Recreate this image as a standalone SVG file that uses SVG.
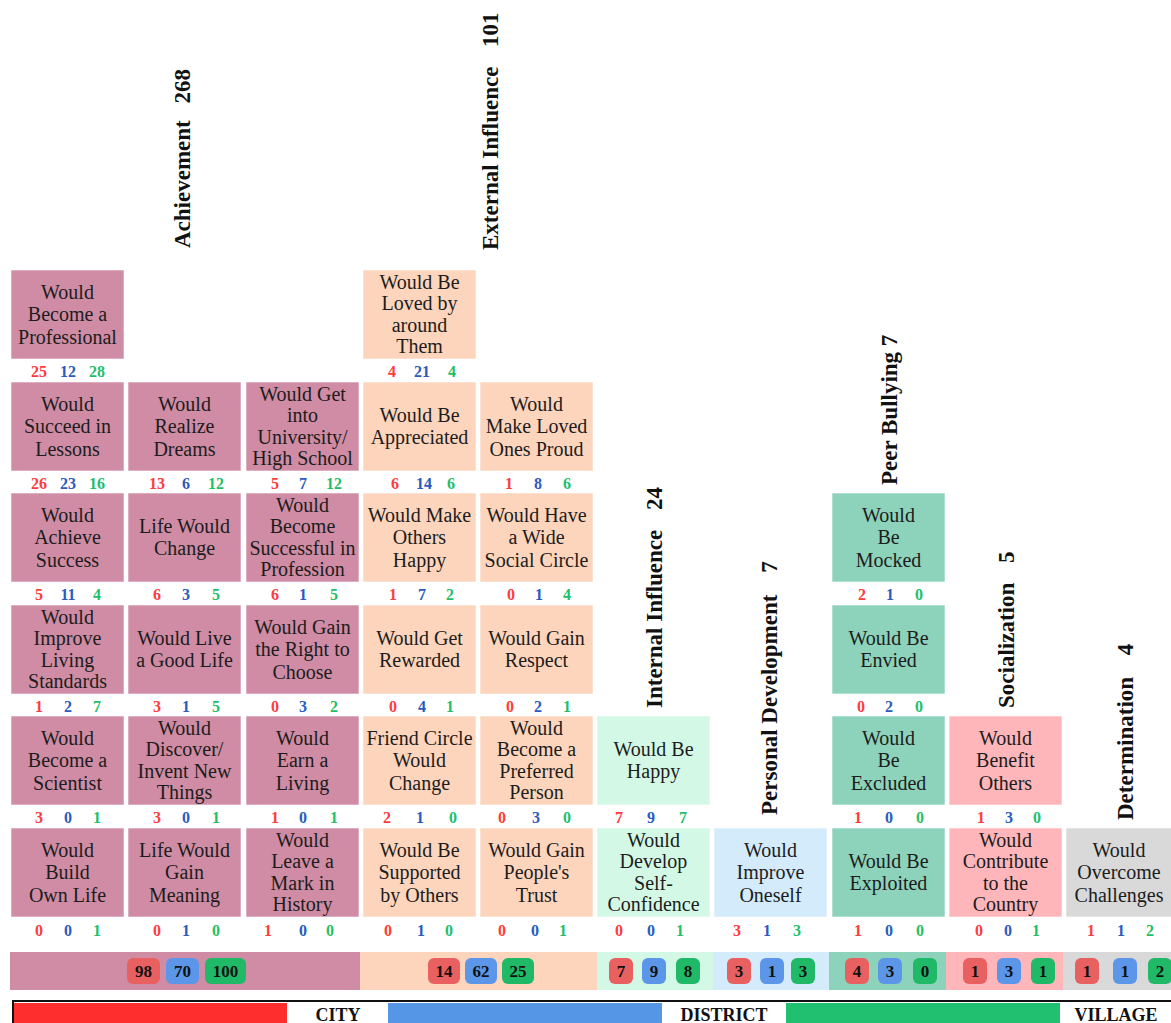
<svg xmlns="http://www.w3.org/2000/svg" width="1171" height="1023" viewBox="0 0 1171 1023">
<style>
.ach{fill:#cf8ca4}
.ext{fill:#fdd5bc}
.int{fill:#d3f9e6}
.per{fill:#d3ebfb}
.peer{fill:#8dd3bb}
.soc{fill:#ffb6ba}
.det{fill:#d9d9d9}
rect.bx{stroke:#ffffff;stroke-opacity:0.6;stroke-width:1}
.t{font-family:"Liberation Serif",serif;font-size:20px;fill:#1c1c1c;text-anchor:middle}
.nr,.nb,.ng{font-family:"Liberation Serif",serif;font-size:16px;font-weight:bold;text-anchor:middle}
.nr{fill:#ff3b3b}
.nb{fill:#2a5bc0}
.ng{fill:#1fbf6a}
.hdr{font-family:"Liberation Serif",serif;font-size:23px;font-weight:bold;fill:#111}
.cr{fill:#e86060}
.cb{fill:#5b96e8}
.cg{fill:#20b968}
.ct{font-family:"Liberation Serif",serif;font-size:17px;font-weight:bold;fill:#111;text-anchor:middle}
.lg{font-family:"Liberation Serif",serif;font-size:18px;font-weight:bold;fill:#111;text-anchor:middle}
</style>

<g id="headers">
<text class="hdr" transform="translate(190,248) rotate(-90)">Achievement <tspan dx="11">268</tspan></text>
<text class="hdr" transform="translate(498,250) rotate(-90)">External Influence <tspan dx="14">101</tspan></text>
<text class="hdr" transform="translate(662,708) rotate(-90)">Internal Influence <tspan dx="14">24</tspan></text>
<text class="hdr" transform="translate(777,815) rotate(-90)">Personal Development <tspan dx="16">7</tspan></text>
<text class="hdr" transform="translate(897,485) rotate(-90)">Peer Bullying 7</text>
<text class="hdr" transform="translate(1014,708) rotate(-90)">Socialization <tspan dx="14">5</tspan></text>
<text class="hdr" transform="translate(1133,820) rotate(-90)">Determination <tspan dx="16">4</tspan></text>
</g>

<!-- Column 1 -->
<g id="n-become-professional"><rect class="bx ach" x="11" y="270" width="113" height="89"/>
<text class="t"><tspan x="67.5" y="298.5">Would</tspan><tspan x="67.5" y="321">Become a</tspan><tspan x="67.5" y="343.5">Professional</tspan></text>
<text class="nr" x="39" y="377">25</text><text class="nb" x="68" y="377">12</text><text class="ng" x="97" y="377">28</text></g>

<g id="n-succeed-lessons"><rect class="bx ach" x="11" y="382" width="113" height="89"/>
<text class="t"><tspan x="67.5" y="410.5">Would</tspan><tspan x="67.5" y="433">Succeed in</tspan><tspan x="67.5" y="455.5">Lessons</tspan></text>
<text class="nr" x="39" y="489">26</text><text class="nb" x="68" y="489">23</text><text class="ng" x="97" y="489">16</text></g>

<g id="n-achieve-success"><rect class="bx ach" x="11" y="493" width="113" height="89"/>
<text class="t"><tspan x="67.5" y="521.5">Would</tspan><tspan x="67.5" y="544">Achieve</tspan><tspan x="67.5" y="566.5">Success</tspan></text>
<text class="nr" x="39" y="600">5</text><text class="nb" x="68" y="600">11</text><text class="ng" x="97" y="600">4</text></g>

<g id="n-improve-living"><rect class="bx ach" x="11" y="605" width="113" height="89"/>
<text class="t"><tspan x="67.5" y="623.75">Would</tspan><tspan x="67.5" y="645.25">Improve</tspan><tspan x="67.5" y="666.75">Living</tspan><tspan x="67.5" y="688.25">Standards</tspan></text>
<text class="nr" x="39" y="712">1</text><text class="nb" x="68" y="712">2</text><text class="ng" x="97" y="712">7</text></g>

<g id="n-become-scientist"><rect class="bx ach" x="11" y="716" width="113" height="89"/>
<text class="t"><tspan x="67.5" y="744.5">Would</tspan><tspan x="67.5" y="767">Become a</tspan><tspan x="67.5" y="789.5">Scientist</tspan></text>
<text class="nr" x="39" y="823">3</text><text class="nb" x="68" y="823">0</text><text class="ng" x="97" y="823">1</text></g>

<g id="n-build-own-life"><rect class="bx ach" x="11" y="828" width="113" height="89"/>
<text class="t"><tspan x="67.5" y="856.5">Would</tspan><tspan x="67.5" y="879">Build</tspan><tspan x="67.5" y="901.5">Own Life</tspan></text>
<text class="nr" x="39" y="936">0</text><text class="nb" x="68" y="936">0</text><text class="ng" x="97" y="936">1</text></g>

<!-- Column 2 -->
<g id="n-realize-dreams"><rect class="bx ach" x="128" y="382" width="113" height="89"/>
<text class="t"><tspan x="184.5" y="410.5">Would</tspan><tspan x="184.5" y="433">Realize</tspan><tspan x="184.5" y="455.5">Dreams</tspan></text>
<text class="nr" x="157" y="489">13</text><text class="nb" x="186" y="489">6</text><text class="ng" x="216" y="489">12</text></g>

<g id="n-life-change"><rect class="bx ach" x="128" y="493" width="113" height="89"/>
<text class="t"><tspan x="184.5" y="532.75">Life Would</tspan><tspan x="184.5" y="555.25">Change</tspan></text>
<text class="nr" x="157" y="600">6</text><text class="nb" x="186" y="600">3</text><text class="ng" x="216" y="600">5</text></g>

<g id="n-good-life"><rect class="bx ach" x="128" y="605" width="113" height="89"/>
<text class="t"><tspan x="184.5" y="644.75">Would Live</tspan><tspan x="184.5" y="667.25">a Good Life</tspan></text>
<text class="nr" x="157" y="712">3</text><text class="nb" x="186" y="712">1</text><text class="ng" x="216" y="712">5</text></g>

<g id="n-discover-invent"><rect class="bx ach" x="128" y="716" width="113" height="89"/>
<text class="t"><tspan x="184.5" y="734.75">Would</tspan><tspan x="184.5" y="756.25">Discover/</tspan><tspan x="184.5" y="777.75">Invent New</tspan><tspan x="184.5" y="799.25">Things</tspan></text>
<text class="nr" x="157" y="823">3</text><text class="nb" x="186" y="823">0</text><text class="ng" x="216" y="823">1</text></g>

<g id="n-life-meaning"><rect class="bx ach" x="128" y="828" width="113" height="89"/>
<text class="t"><tspan x="184.5" y="856.5">Life Would</tspan><tspan x="184.5" y="879">Gain</tspan><tspan x="184.5" y="901.5">Meaning</tspan></text>
<text class="nr" x="157" y="936">0</text><text class="nb" x="186" y="936">1</text><text class="ng" x="216" y="936">0</text></g>

<!-- Column 3 -->
<g id="n-university"><rect class="bx ach" x="246" y="382" width="113" height="89"/>
<text class="t"><tspan x="302.5" y="400.75">Would Get</tspan><tspan x="302.5" y="422.25">into</tspan><tspan x="302.5" y="443.75">University/</tspan><tspan x="302.5" y="465.25">High School</tspan></text>
<text class="nr" x="275" y="489">5</text><text class="nb" x="303" y="489">7</text><text class="ng" x="334" y="489">12</text></g>

<g id="n-successful-profession"><rect class="bx ach" x="246" y="493" width="113" height="89"/>
<text class="t"><tspan x="302.5" y="511.75">Would</tspan><tspan x="302.5" y="533.25">Become</tspan><tspan x="302.5" y="554.75">Successful in</tspan><tspan x="302.5" y="576.25">Profession</tspan></text>
<text class="nr" x="275" y="600">6</text><text class="nb" x="303" y="600">1</text><text class="ng" x="334" y="600">5</text></g>

<g id="n-right-choose"><rect class="bx ach" x="246" y="605" width="113" height="89"/>
<text class="t"><tspan x="302.5" y="633.5">Would Gain</tspan><tspan x="302.5" y="656">the Right to</tspan><tspan x="302.5" y="678.5">Choose</tspan></text>
<text class="nr" x="275" y="712">0</text><text class="nb" x="303" y="712">3</text><text class="ng" x="334" y="712">2</text></g>

<g id="n-earn-living"><rect class="bx ach" x="246" y="716" width="113" height="89"/>
<text class="t"><tspan x="302.5" y="744.5">Would</tspan><tspan x="302.5" y="767">Earn a</tspan><tspan x="302.5" y="789.5">Living</tspan></text>
<text class="nr" x="275" y="823">1</text><text class="nb" x="303" y="823">0</text><text class="ng" x="334" y="823">1</text></g>

<g id="n-mark-history"><rect class="bx ach" x="246" y="828" width="113" height="89"/>
<text class="t"><tspan x="302.5" y="846.75">Would</tspan><tspan x="302.5" y="868.25">Leave a</tspan><tspan x="302.5" y="889.75">Mark in</tspan><tspan x="302.5" y="911.25">History</tspan></text>
<text class="nr" x="268" y="936">1</text><text class="nb" x="303" y="936">0</text><text class="ng" x="330" y="936">0</text></g>

<!-- Column 4 -->
<g id="n-loved-around"><rect class="bx ext" x="363" y="270" width="113" height="89"/>
<text class="t"><tspan x="419.5" y="288.75">Would Be</tspan><tspan x="419.5" y="310.25">Loved by</tspan><tspan x="419.5" y="331.75">around</tspan><tspan x="419.5" y="353.25">Them</tspan></text>
<text class="nr" x="392" y="377">4</text><text class="nb" x="422" y="377">21</text><text class="ng" x="452" y="377">4</text></g>

<g id="n-appreciated"><rect class="bx ext" x="363" y="382" width="113" height="89"/>
<text class="t"><tspan x="419.5" y="421.75">Would Be</tspan><tspan x="419.5" y="444.25">Appreciated</tspan></text>
<text class="nr" x="395" y="489">6</text><text class="nb" x="424" y="489">14</text><text class="ng" x="451" y="489">6</text></g>

<g id="n-others-happy"><rect class="bx ext" x="363" y="493" width="113" height="89"/>
<text class="t"><tspan x="419.5" y="521.5">Would Make</tspan><tspan x="419.5" y="544">Others</tspan><tspan x="419.5" y="566.5">Happy</tspan></text>
<text class="nr" x="393" y="600">1</text><text class="nb" x="422" y="600">7</text><text class="ng" x="450" y="600">2</text></g>

<g id="n-rewarded"><rect class="bx ext" x="363" y="605" width="113" height="89"/>
<text class="t"><tspan x="419.5" y="644.75">Would Get</tspan><tspan x="419.5" y="667.25">Rewarded</tspan></text>
<text class="nr" x="393" y="712">0</text><text class="nb" x="422" y="712">4</text><text class="ng" x="450" y="712">1</text></g>

<g id="n-friend-circle"><rect class="bx ext" x="363" y="716" width="113" height="89"/>
<text class="t"><tspan x="419.5" y="744.5">Friend Circle</tspan><tspan x="419.5" y="767">Would</tspan><tspan x="419.5" y="789.5">Change</tspan></text>
<text class="nr" x="387" y="823">2</text><text class="nb" x="420" y="823">1</text><text class="ng" x="453" y="823">0</text></g>

<g id="n-supported"><rect class="bx ext" x="363" y="828" width="113" height="89"/>
<text class="t"><tspan x="419.5" y="856.5">Would Be</tspan><tspan x="419.5" y="879">Supported</tspan><tspan x="419.5" y="901.5">by Others</tspan></text>
<text class="nr" x="388" y="936">0</text><text class="nb" x="421" y="936">1</text><text class="ng" x="449" y="936">0</text></g>

<!-- Column 5 -->
<g id="n-loved-proud"><rect class="bx ext" x="480" y="382" width="113" height="89"/>
<text class="t"><tspan x="536.5" y="410.5">Would</tspan><tspan x="536.5" y="433">Make Loved</tspan><tspan x="536.5" y="455.5">Ones Proud</tspan></text>
<text class="nr" x="509" y="489">1</text><text class="nb" x="538" y="489">8</text><text class="ng" x="567" y="489">6</text></g>

<g id="n-social-circle"><rect class="bx ext" x="480" y="493" width="113" height="89"/>
<text class="t"><tspan x="536.5" y="521.5">Would Have</tspan><tspan x="536.5" y="544">a Wide</tspan><tspan x="536.5" y="566.5">Social Circle</tspan></text>
<text class="nr" x="511" y="600">0</text><text class="nb" x="539" y="600">1</text><text class="ng" x="567" y="600">4</text></g>

<g id="n-respect"><rect class="bx ext" x="480" y="605" width="113" height="89"/>
<text class="t"><tspan x="536.5" y="644.75">Would Gain</tspan><tspan x="536.5" y="667.25">Respect</tspan></text>
<text class="nr" x="510" y="712">0</text><text class="nb" x="538" y="712">2</text><text class="ng" x="567" y="712">1</text></g>

<g id="n-preferred"><rect class="bx ext" x="480" y="716" width="113" height="89"/>
<text class="t"><tspan x="536.5" y="734.75">Would</tspan><tspan x="536.5" y="756.25">Become a</tspan><tspan x="536.5" y="777.75">Preferred</tspan><tspan x="536.5" y="799.25">Person</tspan></text>
<text class="nr" x="502" y="823">0</text><text class="nb" x="536" y="823">3</text><text class="ng" x="567" y="823">0</text></g>

<g id="n-trust"><rect class="bx ext" x="480" y="828" width="113" height="89"/>
<text class="t"><tspan x="536.5" y="856.5">Would Gain</tspan><tspan x="536.5" y="879">People's</tspan><tspan x="536.5" y="901.5">Trust</tspan></text>
<text class="nr" x="502" y="936">0</text><text class="nb" x="535" y="936">0</text><text class="ng" x="563" y="936">1</text></g>

<!-- Column 6 -->
<g id="n-happy"><rect class="bx int" x="597" y="716" width="113" height="89"/>
<text class="t"><tspan x="653.5" y="755.75">Would Be</tspan><tspan x="653.5" y="778.25">Happy</tspan></text>
<text class="nr" x="619" y="823">7</text><text class="nb" x="651" y="823">9</text><text class="ng" x="683" y="823">7</text></g>

<g id="n-self-confidence"><rect class="bx int" x="597" y="828" width="113" height="89"/>
<text class="t"><tspan x="653.5" y="846.75">Would</tspan><tspan x="653.5" y="868.25">Develop</tspan><tspan x="653.5" y="889.75">Self-</tspan><tspan x="653.5" y="911.25">Confidence</tspan></text>
<text class="nr" x="619" y="936">0</text><text class="nb" x="651" y="936">0</text><text class="ng" x="680" y="936">1</text></g>

<!-- Column 7 -->
<g id="n-improve-oneself"><rect class="bx per" x="714" y="828" width="113" height="89"/>
<text class="t"><tspan x="770.5" y="856.5">Would</tspan><tspan x="770.5" y="879">Improve</tspan><tspan x="770.5" y="901.5">Oneself</tspan></text>
<text class="nr" x="737" y="936">3</text><text class="nb" x="767" y="936">1</text><text class="ng" x="797" y="936">3</text></g>

<!-- Column 8 -->
<g id="n-mocked"><rect class="bx peer" x="832" y="493" width="113" height="89"/>
<text class="t"><tspan x="888.5" y="521.5">Would</tspan><tspan x="888.5" y="544">Be</tspan><tspan x="888.5" y="566.5">Mocked</tspan></text>
<text class="nr" x="862" y="600">2</text><text class="nb" x="890" y="600">1</text><text class="ng" x="919" y="600">0</text></g>

<g id="n-envied"><rect class="bx peer" x="832" y="605" width="113" height="89"/>
<text class="t"><tspan x="888.5" y="644.75">Would Be</tspan><tspan x="888.5" y="667.25">Envied</tspan></text>
<text class="nr" x="861" y="712">0</text><text class="nb" x="889" y="712">2</text><text class="ng" x="919" y="712">0</text></g>

<g id="n-excluded"><rect class="bx peer" x="832" y="716" width="113" height="89"/>
<text class="t"><tspan x="888.5" y="744.5">Would</tspan><tspan x="888.5" y="767">Be</tspan><tspan x="888.5" y="789.5">Excluded</tspan></text>
<text class="nr" x="858" y="823">1</text><text class="nb" x="889" y="823">0</text><text class="ng" x="920" y="823">0</text></g>

<g id="n-exploited"><rect class="bx peer" x="832" y="828" width="113" height="89"/>
<text class="t"><tspan x="888.5" y="867.75">Would Be</tspan><tspan x="888.5" y="890.25">Exploited</tspan></text>
<text class="nr" x="858" y="936">1</text><text class="nb" x="889" y="936">0</text><text class="ng" x="920" y="936">0</text></g>

<!-- Column 9 -->
<g id="n-benefit-others"><rect class="bx soc" x="949" y="716" width="113" height="89"/>
<text class="t"><tspan x="1005.5" y="744.5">Would</tspan><tspan x="1005.5" y="767">Benefit</tspan><tspan x="1005.5" y="789.5">Others</tspan></text>
<text class="nr" x="981" y="823">1</text><text class="nb" x="1009" y="823">3</text><text class="ng" x="1037" y="823">0</text></g>

<g id="n-contribute-country"><rect class="bx soc" x="949" y="828" width="113" height="89"/>
<text class="t"><tspan x="1005.5" y="846.75">Would</tspan><tspan x="1005.5" y="868.25">Contribute</tspan><tspan x="1005.5" y="889.75">to the</tspan><tspan x="1005.5" y="911.25">Country</tspan></text>
<text class="nr" x="979" y="936">0</text><text class="nb" x="1008" y="936">0</text><text class="ng" x="1036" y="936">1</text></g>

<!-- Column 10 -->
<g id="n-overcome-challenges"><rect class="bx det" x="1066" y="828" width="108" height="89"/>
<text class="t"><tspan x="1119" y="856.5">Would</tspan><tspan x="1119" y="879">Overcome</tspan><tspan x="1119" y="901.5">Challenges</tspan></text>
<text class="nr" x="1091" y="936">1</text><text class="nb" x="1121" y="936">1</text><text class="ng" x="1150" y="936">2</text></g>

<!-- Summary bar -->
<g id="summary">
<rect class="ach" x="10" y="952" width="350" height="38"/>
<rect class="ext" x="360" y="952" width="237" height="38"/>
<rect class="int" x="597" y="952" width="116" height="38"/>
<rect class="per" x="713" y="952" width="116" height="38"/>
<rect class="peer" x="829" y="952" width="117" height="38"/>
<rect class="soc" x="946" y="952" width="117" height="38"/>
<rect class="det" x="1063" y="952" width="110" height="38"/>

<rect class="cr" x="127" y="958" width="33" height="26" rx="6"/><text class="ct" x="143.5" y="977">98</text>
<rect class="cb" x="166" y="958" width="33" height="26" rx="6"/><text class="ct" x="182.5" y="977">70</text>
<rect class="cg" x="205" y="958" width="41" height="26" rx="6"/><text class="ct" x="225.5" y="977">100</text>

<rect class="cr" x="428" y="958" width="32" height="26" rx="6"/><text class="ct" x="444" y="977">14</text>
<rect class="cb" x="465" y="958" width="32" height="26" rx="6"/><text class="ct" x="481" y="977">62</text>
<rect class="cg" x="502" y="958" width="32" height="26" rx="6"/><text class="ct" x="518" y="977">25</text>

<rect class="cr" x="609" y="958" width="24" height="26" rx="6"/><text class="ct" x="621" y="977">7</text>
<rect class="cb" x="642" y="958" width="24" height="26" rx="6"/><text class="ct" x="654" y="977">9</text>
<rect class="cg" x="676" y="958" width="24" height="26" rx="6"/><text class="ct" x="688" y="977">8</text>

<rect class="cr" x="727" y="958" width="24" height="26" rx="6"/><text class="ct" x="739" y="977">3</text>
<rect class="cb" x="760" y="958" width="24" height="26" rx="6"/><text class="ct" x="772" y="977">1</text>
<rect class="cg" x="791" y="958" width="24" height="26" rx="6"/><text class="ct" x="803" y="977">3</text>

<rect class="cr" x="845" y="958" width="24" height="26" rx="6"/><text class="ct" x="857" y="977">4</text>
<rect class="cb" x="878" y="958" width="24" height="26" rx="6"/><text class="ct" x="890" y="977">3</text>
<rect class="cg" x="913" y="958" width="24" height="26" rx="6"/><text class="ct" x="925" y="977">0</text>

<rect class="cr" x="963" y="958" width="24" height="26" rx="6"/><text class="ct" x="975" y="977">1</text>
<rect class="cb" x="997" y="958" width="24" height="26" rx="6"/><text class="ct" x="1009" y="977">3</text>
<rect class="cg" x="1031" y="958" width="24" height="26" rx="6"/><text class="ct" x="1043" y="977">1</text>

<rect class="cr" x="1075" y="958" width="24" height="26" rx="6"/><text class="ct" x="1087" y="977">1</text>
<rect class="cb" x="1113" y="958" width="24" height="26" rx="6"/><text class="ct" x="1125" y="977">1</text>
<rect class="cg" x="1148" y="958" width="24" height="26" rx="6"/><text class="ct" x="1160" y="977">2</text>
</g>

<!-- Legend -->
<g id="legend">
<rect x="13" y="1001" width="1170" height="30" fill="#ffffff" stroke="#111" stroke-width="2"/>
<rect x="14" y="1003" width="273" height="22" fill="#ff2e2e"/>
<rect x="388" y="1003" width="274" height="22" fill="#5596e6"/>
<rect x="786" y="1003" width="274" height="22" fill="#20c070"/>
<text class="lg" x="338" y="1021">CITY</text>
<text class="lg" x="724" y="1021">DISTRICT</text>
<text class="lg" x="1116" y="1021">VILLAGE</text>
</g>
</svg>
